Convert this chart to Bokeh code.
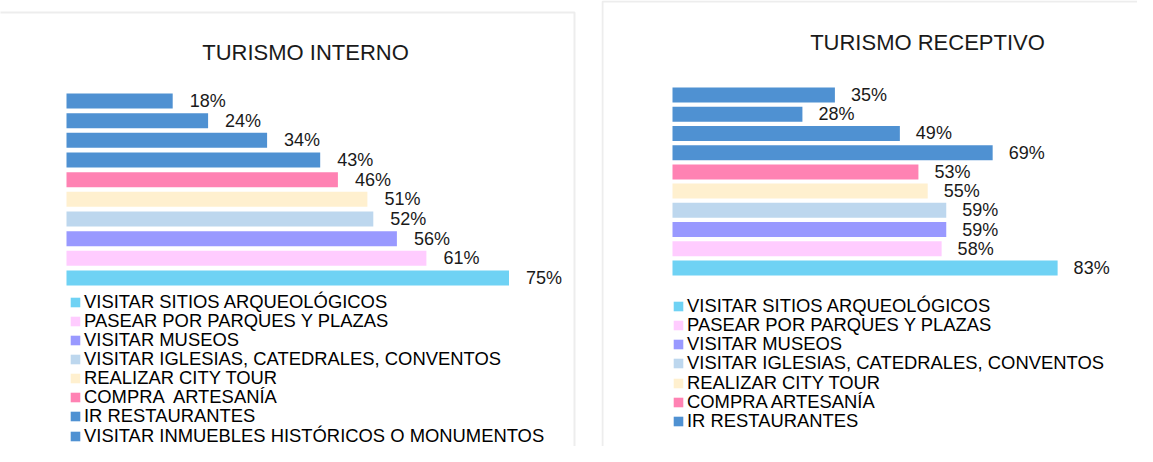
from bokeh.plotting import figure
from bokeh.models import ColumnDataSource, Range1d, Legend, LegendItem, BoxAnnotation
from bokeh.layouts import row
from bokeh.core.properties import value
from bokeh.embed import file_html
from bokeh.resources import INLINE

# ---------------- data (bottom bar first) ----------------
categorias_interno = [
    "VISITAR SITIOS ARQUEOLÓGICOS",
    "PASEAR POR PARQUES Y PLAZAS",
    "VISITAR MUSEOS",
    "VISITAR IGLESIAS, CATEDRALES, CONVENTOS",
    "REALIZAR CITY TOUR",
    "COMPRA  ARTESANÍA",
    "IR RESTAURANTES",
    "VISITAR INMUEBLES HISTÓRICOS O MONUMENTOS",
    "",
    "",
]
valores_interno = [75, 61, 56, 52, 51, 46, 43, 34, 24, 18]

categorias_receptivo = [
    "VISITAR SITIOS ARQUEOLÓGICOS",
    "PASEAR POR PARQUES Y PLAZAS",
    "VISITAR MUSEOS",
    "VISITAR IGLESIAS, CATEDRALES, CONVENTOS",
    "REALIZAR CITY TOUR",
    "COMPRA ARTESANÍA",
    "IR RESTAURANTES",
    "",
    "",
    "",
]
valores_receptivo = [83, 58, 59, 59, 55, 53, 69, 49, 28, 35]

colores = ["#6fd2f4", "#ffccff", "#9999ff", "#bdd7ee", "#fff0cf", "#ff82b3",
           "#4f91d2", "#4f91d2", "#4f91d2", "#4f91d2"]

titulo_interno = "TURISMO INTERNO"
titulo_receptivo = "TURISMO RECEPTIVO"

FONT_NAME = "Liberation Sans"
FONT = value(FONT_NAME)
BORDER = "#c4c4c4"
LEG_ROW_H = 21  # rendered height of one legend row


def panel(title, cats, vals, W, H, x0, pxu, y0, pitch, bar_px, title_px,
          leg_x, leg_y0, leg_pitch, box_px, label_off):
    # pixel -> data helpers (pixels measured from canvas top-left)
    def dx(px):
        return (px - x0) / pxu

    def dy(py):
        return (y0 - py) / pitch

    p = figure(width=W, height=H, output_backend="svg", toolbar_location=None,
               x_range=Range1d(dx(0), dx(W)), y_range=Range1d(dy(H), dy(0)),
               x_axis_location=None, y_axis_location=None,
               min_border=0, min_border_left=0, min_border_right=0,
               min_border_top=0, min_border_bottom=0)
    p.grid.visible = False
    p.outline_line_color = None
    p.background_fill_color = "white"
    p.border_fill_color = "white"

    src = ColumnDataSource(dict(
        y=list(range(len(vals))),
        v=vals,
        color=colores,
        lbl=[f"{v}%" for v in vals],
    ))
    r = p.hbar(y="y", left=0, right="v", height=bar_px / pitch, fill_color="color",
               line_color=None, source=src)
    p.text(x="v", y="y", text="lbl", source=src, x_offset=label_off,
           text_align="left", text_baseline="middle", text_font=FONT,
           text_font_size="18px", text_color="#1a1a1a")

    # title
    tsrc = ColumnDataSource(dict(x=[dx(title_px[0])], y=[dy(title_px[1])], t=[title]))
    p.text(x="x", y="y", text="t", source=tsrc, text_align="center",
           text_baseline="middle", text_font=FONT, text_font_size="22px",
           text_color="#1a1a1a")

    # panel border
    l, t, rgt, b = box_px
    p.add_layout(BoxAnnotation(left=dx(l), right=dx(rgt), top=dy(t), bottom=dy(b),
                               fill_color=None, fill_alpha=0, line_color=BORDER,
                               line_width=2))

    # legend: one row per entry so the row pitch matches the reference
    k = 0
    for i, c in enumerate(cats):
        if not c:
            continue
        center = leg_y0 + k * leg_pitch
        loc_y = H - (center + LEG_ROW_H / 2)
        leg = Legend(items=[LegendItem(label=c, renderers=[r], index=i)],
                     location=(leg_x, loc_y), orientation="vertical",
                     margin=0, padding=0, spacing=0,
                     glyph_width=12, glyph_height=12, label_height=19,
                     label_standoff=3, label_text_font=FONT_NAME,
                     label_text_font_size="18.4px", label_text_color="#000000",
                     background_fill_alpha=0, border_line_color=None)
        p.add_layout(leg)
        k += 1
    return p


# left panel canvas
p1 = panel(titulo_interno, categorias_interno, valores_interno,
           W=601, H=446, x0=66, pxu=5.9, y0=277.5, pitch=19.67, bar_px=15,
           title_px=(305, 52), leg_x=69, leg_y0=302, leg_pitch=19.15,
           box_px=(-50, 12, 574, 600), label_off=17)

# right panel canvas
p2 = panel(titulo_receptivo, categorias_receptivo, valores_receptivo,
           W=536, H=446, x0=71, pxu=4.64, y0=267.5, pitch=19.22, bar_px=15,
           title_px=(326, 42), leg_x=71, leg_y0=306, leg_pitch=19.33,
           box_px=(1, 1, 700, 600), label_off=16)

layout = row(p1, p2)
open("out.html", "w").write(file_html(layout, INLINE))
